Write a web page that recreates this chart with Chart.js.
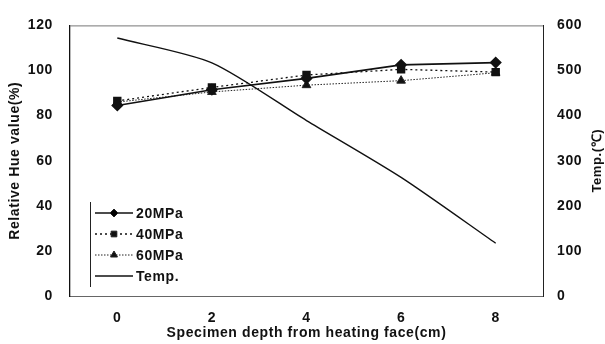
<!DOCTYPE html>
<html>
<head>
<meta charset="utf-8">
<script src="https://cdn.jsdelivr.net/npm/chart.js@4.4.1/dist/chart.umd.min.js"></script>
<style>
    html, body { margin: 0; padding: 0; background: #fff; }
    #wrap { width: 605px; height: 344px; }
</style>
</head>
<body>
<div id="wrap"><canvas id="hueChart"></canvas></div>
<script>
// specimen depth (cm) and measured series
const depths = ["0", "2", "4", "6", "8"];
const hue20 = [84.5, 91.5, 96.5, 102.5, 103.5];
const hue40 = [86.5, 92.5, 98, 100.5, 99.3];
const hue60 = [86, 90.5, 93.5, 95.5, 99];
const temps = [572, 517, 389, 263, 117];

const FONT = "'Liberation Sans', Arial, sans-serif";
const SPACING = "0.6px";

// slightly wider lettering for all canvas text
const spacingPlugin = {
    id: "spacing",
    beforeDraw(chart) {
        chart.ctx.letterSpacing = SPACING;
    }
};

// legend box in the lower-left of the plot, plus the right axis title
const extrasPlugin = {
    id: "extras",
    afterDraw(chart) {
        const ctx = chart.ctx;
        const area = chart.chartArea;
        ctx.save();
        ctx.letterSpacing = SPACING;

        // top frame line
        ctx.strokeStyle = "#777";
        ctx.lineWidth = 1;
        ctx.beginPath();
        ctx.moveTo(area.left, area.top + 0.5);
        ctx.lineTo(area.right, area.top + 0.5);
        ctx.stroke();

        // legend
        const x0 = 90, y0 = 202, rowH = 21;
        ctx.strokeStyle = "#222";
        ctx.lineWidth = 1;
        ctx.beginPath();
        ctx.moveTo(x0 + 0.5, y0);
        ctx.lineTo(x0 + 0.5, y0 + 85);
        ctx.stroke();

        chart.data.datasets.forEach((ds, i) => {
            const y = y0 + 11 + i * rowH;
            ctx.save();
            ctx.strokeStyle = ds.borderColor;
            ctx.lineWidth = ds.borderWidth;
            ctx.setLineDash(ds.borderDash || []);
            ctx.beginPath();
            ctx.moveTo(95, y);
            ctx.lineTo(133, y);
            ctx.stroke();
            ctx.restore();
            if (ds.pointRadius > 0) {
                Chart.helpers.drawPoint(ctx, {
                    pointStyle: ds.pointStyle,
                    radius: ds.pointRadius - 1,
                    rotation: 0,
                    borderWidth: 1
                }, 114, y);
            }
            ctx.fillStyle = "#111";
            ctx.font = "bold 14px " + FONT;
            ctx.textAlign = "left";
            ctx.textBaseline = "middle";
            ctx.fillText(ds.label, 136, y + 1);
        });

        // right axis title, reading bottom to top
        ctx.translate(597, (area.top + area.bottom) / 2);
        ctx.rotate(-Math.PI / 2);
        ctx.fillStyle = "#111";
        ctx.font = "bold 13px " + FONT;
        ctx.textAlign = "center";
        ctx.textBaseline = "middle";
        ctx.fillText("Temp.(\u2103)", 0, 0);
        ctx.restore();
    }
};

const tickFont = { family: FONT, size: 14, weight: "bold" };

const ctx = document.getElementById("hueChart").getContext("2d");
new Chart(ctx, {
    type: "line",
    data: {
        labels: depths,
        datasets: [{
            label: "20MPa",
            data: hue20,
            yAxisID: "y",
            borderColor: "#111",
            backgroundColor: "#111",
            borderWidth: 1.6,
            pointStyle: "rectRot",
            pointRadius: 5,
            tension: 0
        }, {
            label: "40MPa",
            data: hue40,
            yAxisID: "y",
            borderColor: "#111",
            backgroundColor: "#111",
            borderWidth: 1.3,
            borderDash: [2, 3],
            pointStyle: "rect",
            pointRadius: 5,
            tension: 0
        }, {
            label: "60MPa",
            data: hue60,
            yAxisID: "y",
            borderColor: "#222",
            backgroundColor: "#111",
            borderWidth: 1,
            borderDash: [1.5, 1.5],
            pointStyle: "triangle",
            pointRadius: 5,
            tension: 0
        }, {
            label: "Temp.",
            data: temps,
            yAxisID: "y1",
            borderColor: "#111",
            backgroundColor: "#111",
            borderWidth: 1.4,
            pointRadius: 0,
            tension: 0.25
        }]
    },
    options: {
        responsive: true,
        maintainAspectRatio: false,
        animation: false,
        layout: { padding: { top: 15, left: 0, right: 0, bottom: 0 } },
        scales: {
            x: {
                offset: true,
                grid: { display: false, drawTicks: false },
                border: { display: true, color: "#666", width: 1, dash: [8, 3] },
                ticks: { color: "#111", padding: 14, font: tickFont },
                title: {
                    display: true,
                    text: "Specimen depth from heating face(cm)",
                    color: "#111",
                    padding: { top: 0, bottom: 2 },
                    font: tickFont
                },
                afterFit: s => { s.height = 48; }
            },
            y: {
                position: "left",
                min: 0,
                max: 120,
                grid: { display: false, drawTicks: false },
                border: { display: true, color: "#111", width: 1.3 },
                ticks: { stepSize: 20, color: "#111", padding: 17, font: tickFont },
                title: {
                    display: true,
                    text: "Relative Hue value(%)",
                    color: "#111",
                    padding: { top: 7, bottom: 0 },
                    font: { family: FONT, size: 14, weight: "bold" }
                },
                afterFit: s => { s.width = 70; }
            },
            y1: {
                position: "right",
                min: 0,
                max: 600,
                grid: { display: false, drawTicks: false },
                border: { display: true, color: "#222", width: 1 },
                ticks: { stepSize: 100, color: "#111", padding: 14, font: tickFont },
                afterFit: s => { s.width = 62; }
            }
        },
        plugins: {
            legend: { display: false },
            tooltip: { enabled: false }
        }
    },
    plugins: [spacingPlugin, extrasPlugin]
});
</script>
</body>
</html>
